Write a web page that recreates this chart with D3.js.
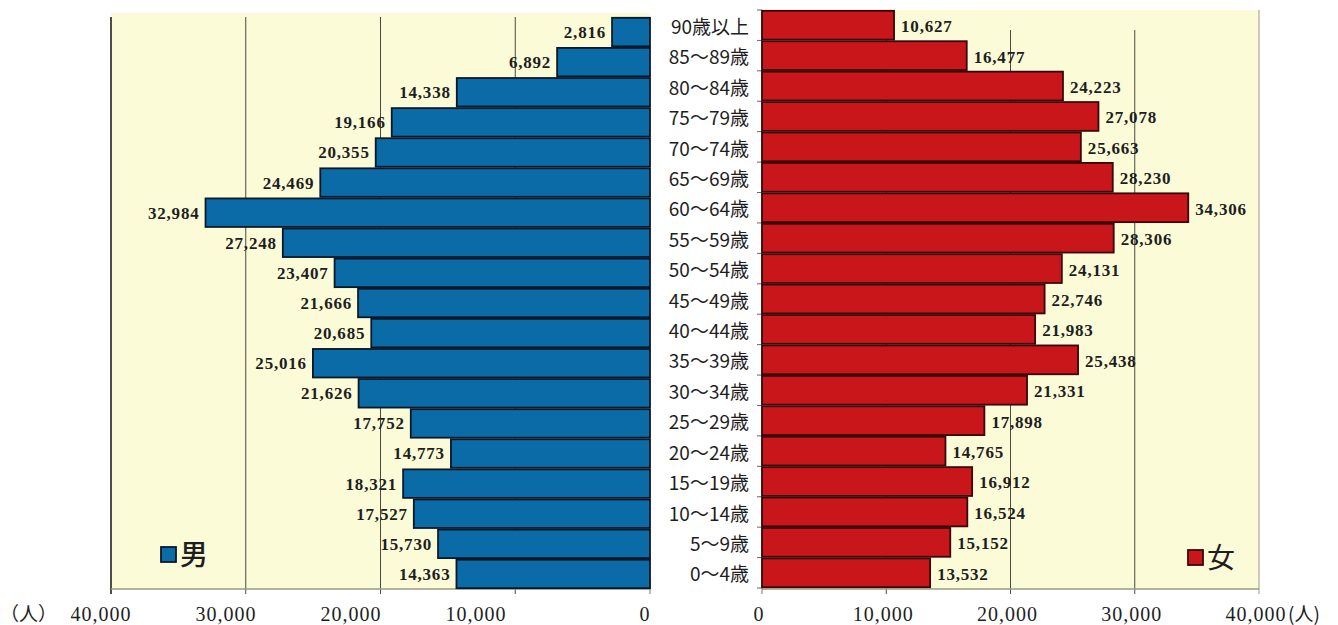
<!DOCTYPE html>
<html>
<head>
<meta charset="utf-8">
<script src="https://cdn.jsdelivr.net/npm/d3@7"></script>
<style>
  html, body { margin: 0; padding: 0; background: #ffffff; }
  svg { display: block; }
</style>
</head>
<body>
<svg id="chart" width="1338" height="625"></svg>
<script>
// Age groups, oldest at the top
const categories = [
  "90歳以上", "85〜89歳", "80〜84歳", "75〜79歳", "70〜74歳", "65〜69歳",
  "60〜64歳", "55〜59歳", "50〜54歳", "45〜49歳", "40〜44歳", "35〜39歳",
  "30〜34歳", "25〜29歳", "20〜24歳", "15〜19歳", "10〜14歳", "5〜9歳", "0〜4歳"
];

// Population by age group (persons)
const male = [
  2816, 6892, 14338, 19166, 20355, 24469,
  32984, 27248, 23407, 21666, 20685, 25016,
  21626, 17752, 14773, 18321, 17527, 15730, 14363
];
const female = [
  10627, 16477, 24223, 27078, 25663, 28230,
  34306, 28306, 24131, 22746, 21983, 25438,
  21331, 17898, 14765, 16912, 16524, 15152, 13532
];

const axisTicks = [0, 10000, 20000, 30000, 40000];
const seriesNames = ["男", "女"];
const unitLabel = "人";

const svg = d3.select("#chart");
const fmt = d3.format(",");

const C = {
  cream: "#fbfbd8",
  blue: "#0a6ba6",
  blueEdge: "#0c1828",
  red: "#c8161a",
  redEdge: "#380808",
  grid: "#4a4a40",
  axis: "#9a9a80",
  text: "#1e1e1e"
};

// Scales: men grow leftwards from the centre, women rightwards
const xL = d3.scaleLinear().domain([0, 40000]).range([650, 111]);
const xR = d3.scaleLinear().domain([0, 40000]).range([762, 1259]);
const yL = d3.scaleBand().domain(categories).range([17, 589]).padding(0);
const yR = d3.scaleBand().domain(categories).range([10, 588]).padding(0);
// Men's tick labels sit on their own, slightly narrower spacing
const xLLabel = d3.scaleLinear().domain([10000, 40000]).range([476, 101]);

// Plot backgrounds
svg.append("rect").attr("x", xL(40000)).attr("y", 13)
  .attr("width", xL(0) - xL(40000)).attr("height", 589 - 13).attr("fill", C.cream);
svg.append("rect").attr("x", xR(0)).attr("y", 10)
  .attr("width", xR(40000) - xR(0)).attr("height", 589 - 10).attr("fill", C.cream);

// Vertical gridlines
const gL = svg.append("g");
axisTicks.filter(t => t > 0).forEach(t => {
  gL.append("line").attr("x1", xL(t)).attr("x2", xL(t)).attr("y1", 17).attr("y2", 594)
    .attr("stroke", t === 40000 ? "#222" : C.grid).attr("stroke-width", t === 40000 ? 1.6 : 1);
});
const gR = svg.append("g");
axisTicks.filter(t => t > 0).forEach(t => {
  gR.append("line").attr("x1", xR(t)).attr("x2", xR(t)).attr("y1", t === 40000 ? 10 : 30).attr("y2", 594)
    .attr("stroke", t === 40000 ? C.axis : C.grid).attr("stroke-width", 1);
});

// Bottom axis lines with tick marks
svg.append("line").attr("x1", xL(40000)).attr("x2", xL(0)).attr("y1", 589).attr("y2", 589)
  .attr("stroke", C.axis).attr("stroke-width", 1.5);
svg.append("line").attr("x1", xR(0)).attr("x2", xR(40000)).attr("y1", 589).attr("y2", 589)
  .attr("stroke", C.axis).attr("stroke-width", 1.5);
svg.append("line").attr("x1", xL(0)).attr("x2", xL(0)).attr("y1", 580).attr("y2", 594)
  .attr("stroke", "#777").attr("stroke-width", 1);
svg.append("line").attr("x1", xR(0)).attr("x2", xR(0)).attr("y1", 10).attr("y2", 594)
  .attr("stroke", "#777").attr("stroke-width", 1);

// Category ticks on the women's axis
svg.append("g").selectAll("line")
  .data(categories.concat([null]))
  .join("line")
  .attr("x1", xR(0) - 5).attr("x2", xR(0))
  .attr("y1", (d, i) => i < categories.length ? yR(d) : yR.range()[1])
  .attr("y2", (d, i) => i < categories.length ? yR(d) : yR.range()[1])
  .attr("stroke", "#666").attr("stroke-width", 1);

// Bars
svg.append("g").selectAll("rect")
  .data(categories)
  .join("rect")
  .attr("x", (d, i) => xL(male[i]))
  .attr("y", d => yL(d) + 0.8)
  .attr("width", (d, i) => xL(0) - xL(male[i]))
  .attr("height", yL.bandwidth() - 1.6)
  .attr("fill", C.blue)
  .attr("stroke", C.blueEdge)
  .attr("stroke-width", 1.8);

svg.append("g").selectAll("rect")
  .data(categories)
  .join("rect")
  .attr("x", xR(0))
  .attr("y", d => yR(d) + 0.8)
  .attr("width", (d, i) => xR(female[i]) - xR(0))
  .attr("height", yR.bandwidth() - 1.6)
  .attr("fill", C.red)
  .attr("stroke", C.redEdge)
  .attr("stroke-width", 1.8);

// Value labels
const valueFont = "'Liberation Serif', serif";
svg.append("g").selectAll("text")
  .data(categories)
  .join("text")
  .attr("x", (d, i) => xL(male[i]) - 6)
  .attr("y", d => yL(d) + yL.bandwidth() / 2)
  .attr("dy", "0.35em")
  .attr("text-anchor", "end")
  .attr("font-family", valueFont)
  .attr("font-weight", "bold")
  .attr("font-size", 17)
  .attr("letter-spacing", 0.8)
  .attr("fill", C.text)
  .text((d, i) => fmt(male[i]));

svg.append("g").selectAll("text")
  .data(categories)
  .join("text")
  .attr("x", (d, i) => xR(female[i]) + 7)
  .attr("y", d => yR(d) + yR.bandwidth() / 2 + 1)
  .attr("dy", "0.35em")
  .attr("text-anchor", "start")
  .attr("font-family", valueFont)
  .attr("font-weight", "bold")
  .attr("font-size", 17)
  .attr("letter-spacing", 0.8)
  .attr("fill", C.text)
  .text((d, i) => fmt(female[i]));

// Age group labels between the two halves
const cjkFont = "'Noto Sans CJK JP', 'Noto Sans', sans-serif";
svg.append("g").selectAll("text")
  .data(categories)
  .join("text")
  .attr("x", 749)
  .attr("y", d => yR(d) + yR.bandwidth() / 2 + 2)
  .attr("dy", "0.35em")
  .attr("text-anchor", "end")
  .attr("font-family", cjkFont)
  .attr("font-size", 19)
  .attr("fill", C.text)
  .text(d => d);

// Bottom tick labels
const tickFont = "'Liberation Serif', serif";
svg.append("g").selectAll("text")
  .data(axisTicks)
  .join("text")
  .attr("x", d => d === 0 ? xL(0) - 5 : xLLabel(d))
  .attr("y", 614)
  .attr("dy", "0.35em")
  .attr("text-anchor", "middle")
  .attr("font-family", tickFont)
  .attr("font-size", 20)
  .attr("letter-spacing", 1)
  .attr("fill", C.text)
  .text(d => fmt(d));

svg.append("g").selectAll("text")
  .data(axisTicks)
  .join("text")
  .attr("x", d => xR(d) - 3)
  .attr("y", 614)
  .attr("dy", "0.35em")
  .attr("text-anchor", "middle")
  .attr("font-family", tickFont)
  .attr("font-size", 20)
  .attr("letter-spacing", 1)
  .attr("fill", C.text)
  .text(d => fmt(d));

// Unit labels
svg.append("text").attr("x", 0).attr("y", 614).attr("dy", "0.35em")
  .attr("font-family", cjkFont).attr("font-size", 19).attr("fill", C.text)
  .text("（" + unitLabel + "）");
svg.append("text").attr("x", xR(40000) + 29).attr("y", 614).attr("dy", "0.35em")
  .attr("font-family", cjkFont).attr("font-size", 19).attr("fill", C.text)
  .text("(" + unitLabel + ")");

// Legends
const legends = [
  { name: seriesNames[0], fill: C.blue, edge: C.blueEdge, x: 161, y: 547, weight: 500 },
  { name: seriesNames[1], fill: C.red, edge: C.redEdge, x: 1188, y: 550, weight: 400 }
];
legends.forEach(l => {
  svg.append("rect").attr("x", l.x).attr("y", l.y).attr("width", 15).attr("height", 15)
    .attr("fill", l.fill).attr("stroke", l.edge).attr("stroke-width", 1.8);
  svg.append("text").attr("x", l.x + 19).attr("y", l.y + 8).attr("dy", "0.36em")
    .attr("font-family", cjkFont).attr("font-size", 28).attr("font-weight", l.weight)
    .attr("fill", C.text)
    .text(l.name);
});
</script>
</body>
</html>
